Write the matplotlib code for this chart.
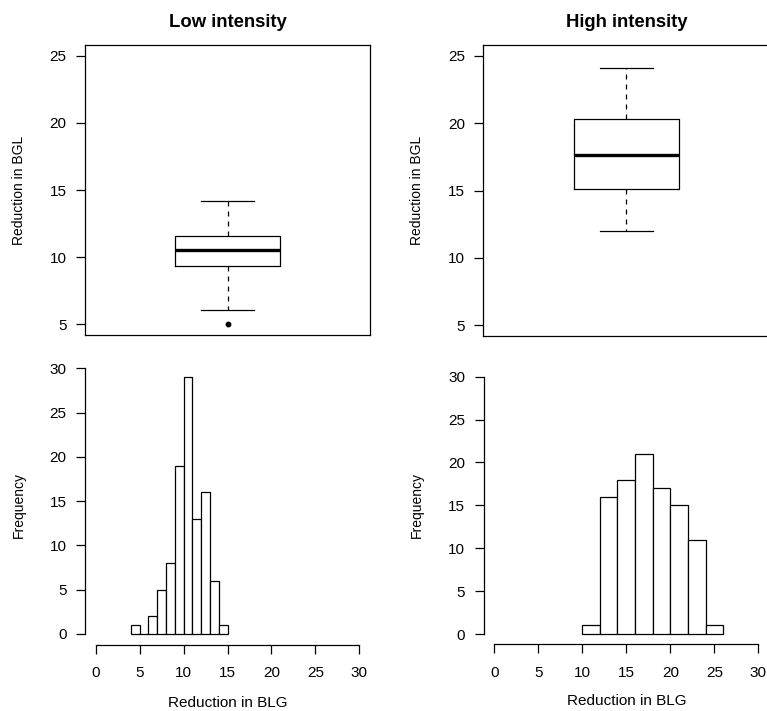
import matplotlib
matplotlib.use("Agg")
import matplotlib.pyplot as plt

plt.rcParams['font.family'] = ['Liberation Sans', 'DejaVu Sans']
plt.rcParams['lines.scale_dashes'] = False

# box plot summaries
titles = ["Low intensity", "High intensity"]
box_lo = [6.03, 11.98]
box_q1 = [9.31, 15.1]
box_med = [10.54, 17.6]
box_q3 = [11.61, 20.3]
box_hi = [14.21, 24.06]
box_fliers = [[5.0], []]

# histograms
low_edges = [4, 5, 6, 7, 8, 9, 10, 11, 12, 13, 14, 15]
low_counts = [1, 0, 2, 5, 8, 19, 29, 13, 16, 6, 1]
high_edges = [10, 12, 14, 16, 18, 20, 22, 24, 26]
high_counts = [1, 16, 18, 21, 17, 15, 11, 1]

box_ticks = [5, 10, 15, 20, 25]
hist_ticks = [0, 5, 10, 15, 20, 25, 30]

W, H = 767, 711
fig = plt.figure(figsize=(W / 100, H / 100), dpi=100)


def px_axes(x0, x1, y0, y1):
    # axes from pixel box (top-left origin)
    return fig.add_axes([x0 / W, (H - y1) / H, (x1 - x0) / W, (y1 - y0) / H])


LW = 0.9
TICK_FS = 11
YLAB_FS = 10

# --- top row: box plots
box_axes = [px_axes(85, 370, 45, 335), px_axes(483.3, 769.3, 45, 336)]
for i, ax in enumerate(box_axes):
    stats = [dict(whislo=box_lo[i], q1=box_q1[i], med=box_med[i],
                  q3=box_q3[i], whishi=box_hi[i], fliers=box_fliers[i])]
    ax.bxp(stats, positions=[0.5], widths=0.368, capwidths=0.184,
           boxprops=dict(color="black", linewidth=LW),
           medianprops=dict(color="black", linewidth=2.4, solid_capstyle="butt"),
           whiskerprops=dict(color="black", linewidth=LW, linestyle=(0, (3.6, 3.6))),
           capprops=dict(color="black", linewidth=LW),
           flierprops=dict(marker="o", markerfacecolor="black",
                           markeredgecolor="black", markersize=3.2))
    ax.set_xlim(0, 1)
    ax.set_ylim(4.2, 25.8)
    ax.set_xticks([])
    ax.set_yticks(box_ticks)
    ax.tick_params(axis="y", length=6.3, width=LW, pad=7, labelsize=TICK_FS)
    for s in ax.spines.values():
        s.set_linewidth(LW)
    ax.set_title(titles[i], fontsize=13.3, fontweight="bold", pad=13)
    ax.set_ylabel("Reduction in BGL", fontsize=YLAB_FS)
    ax.yaxis.label.set_verticalalignment("center")
    ax.yaxis.set_label_coords(-(85 - 19) / 285, 0.5)

# --- bottom row: histograms
hist_axes = [px_axes(85, 370, 357.7, 644.6), px_axes(483.7, 768.9, 366.4, 644.3)]
hist_data = [(low_edges, low_counts), (high_edges, high_counts)]
ylab_y = [0.485, 0.5]
for i, ax in enumerate(hist_axes):
    edges, counts = hist_data[i]
    ax.bar(edges[:-1], counts, width=[b - a for a, b in zip(edges[:-1], edges[1:])],
           align="edge", facecolor="white", edgecolor="black", linewidth=LW)
    ax.set_xlim(-1.2, 31.2)
    ax.set_ylim(-1.2, 31.2)
    ax.set_xticks(hist_ticks)
    ax.set_yticks(hist_ticks)
    ax.spines["top"].set_visible(False)
    ax.spines["right"].set_visible(False)
    ax.spines["left"].set_bounds(0, 30)
    ax.spines["bottom"].set_bounds(0, 30)
    ax.spines["left"].set_linewidth(LW)
    ax.spines["bottom"].set_linewidth(LW)
    ax.tick_params(axis="y", length=6.3, width=LW, pad=7, labelsize=TICK_FS)
    ax.tick_params(axis="x", length=6.5, width=LW, pad=9, labelsize=TICK_FS)
    ax.set_ylabel("Frequency", fontsize=YLAB_FS)
    ax.yaxis.label.set_verticalalignment("center")
    ax.yaxis.set_label_coords(-(85 - 18.5) / 285, ylab_y[i])
    ax.set_xlabel("Reduction in BLG", fontsize=TICK_FS)
    ax.xaxis.set_label_coords(0.5, -0.203)
    ax.xaxis.label.set_verticalalignment("center")

fig.savefig("out.png", dpi=100)
